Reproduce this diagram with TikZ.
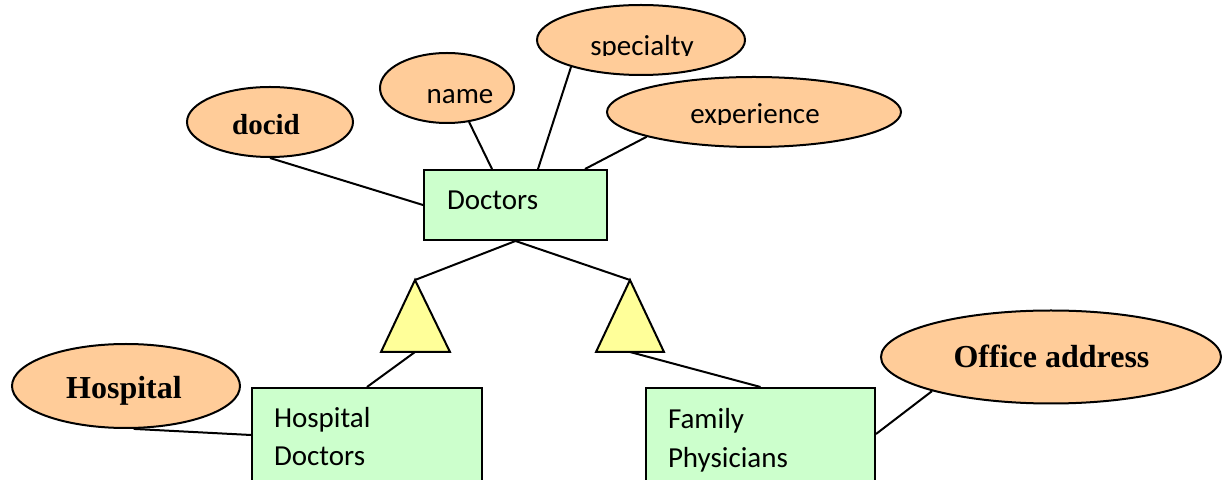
\documentclass[tikz,border=0pt]{standalone}
\usepackage{fontspec}
\setmainfont{Carlito}
\newfontfamily\serifb{Liberation Serif}
\usetikzlibrary{shapes.geometric,calc}
\definecolor{attrfill}{HTML}{FFCC99}
\definecolor{entfill}{HTML}{CCFFCC}
\definecolor{isafill}{HTML}{FFFF99}
\begin{document}
\begin{tikzpicture}[x=0.5pt,y=-0.5pt,line width=1pt,
  attr/.style={ellipse,draw,fill=attrfill,inner sep=0pt},
  ent/.style={rectangle,draw,fill=entfill,inner sep=0pt},
  isa/.style={draw,fill=isafill,line join=miter},
  lbl/.style={font=\fontsize{14.5}{19.5}\selectfont,inner sep=0pt,anchor=base},
  blbl/.style={font=\serifb\bfseries\fontsize{16}{19}\selectfont,inner sep=0pt,anchor=base}]
\useasboundingbox (0,0) rectangle (1222,480);
\clip (0,0) rectangle (1222,480);
% attributes
\node[attr,minimum width=83pt,minimum height=35pt] (docid) at (270,122) {};
\node[attr,minimum width=67pt,minimum height=35pt] (name) at (447,88) {};
\node[attr,minimum width=104pt,minimum height=35pt] (specialty) at (641,40) {};
\node[attr,minimum width=147pt,minimum height=35pt] (experience) at (754,112) {};
\node[attr,minimum width=114pt,minimum height=42pt] (hospital) at (126,386) {};
\node[attr,minimum width=170pt,minimum height=46.5pt] (office) at (1051,357) {};
% entities
\node[ent,minimum width=91.5pt,minimum height=35pt] (doctors) at (515.5,205) {};
\node[ent,minimum width=115pt,minimum height=56pt] (hd) at (367,444) {};
\node[ent,minimum width=114.5pt,minimum height=56pt] (fp) at (760.5,444) {};
% isa triangles
\coordinate (ltA) at (415,280); \coordinate (ltL) at (381,352);
\coordinate (ltR) at (450,352); \coordinate (ltB) at (415,352);
\coordinate (rtA) at (630,280); \coordinate (rtL) at (596,352);
\coordinate (rtR) at (664,352); \coordinate (rtB) at (630,352);
\draw[isa] (ltA) -- (ltL) -- (ltR) -- cycle;
\draw[isa] (rtA) -- (rtL) -- (rtR) -- cycle;
% connectors
\draw (docid.south) -- (doctors.west);
\draw (name.-57) -- ($(doctors.north)+(-23.5,0)$);
\draw (specialty.-159) -- ($(doctors.north)+(22.5,0)$);
\draw (experience.-167) -- ($(doctors.north)+(69.5,0)$);
\draw (doctors.south) -- (ltA);
\draw (doctors.south) -- (rtA);
\draw (ltB) -- (hd.north);
\draw (rtB) -- (fp.north);
\draw (hospital.-80) -- ($(hd.north west)+(0,48)$);
\draw (office.-164) -- ($(fp.north east)+(0,47)$);
% labels
\node[blbl,font=\serifb\bfseries\fontsize{14.5}{17}\selectfont] (docidt) at (266,135) {docid};
\node[lbl] (namet) at (460,104) {name};
\begin{scope}
  \clip (500,0) rectangle (800,56);
  \node[lbl] (spect) at (642,56) {specialty};
\end{scope}
\begin{scope}
  \clip (600,60) rectangle (900,125);
  \node[lbl] (expt) at (755,124) {experience};
\end{scope}
\node[lbl,anchor=base west] (doctorst) at (446,210) {Doctors};
\node[lbl,anchor=base west] (hdt1) at (273,428) {Hospital};
\node[lbl,anchor=base west] (hdt2) at (273,466) {Doctors};
\node[lbl,anchor=base west] (fpt1) at (667,429) {Family};
\node[lbl,anchor=base west] (fpt2) at (667,468) {Physicians};
\node[blbl] (hospitalt) at (124,399) {Hospital};
\node[blbl] (officet) at (1051.5,368) {Office address};
\end{tikzpicture}
\end{document}
